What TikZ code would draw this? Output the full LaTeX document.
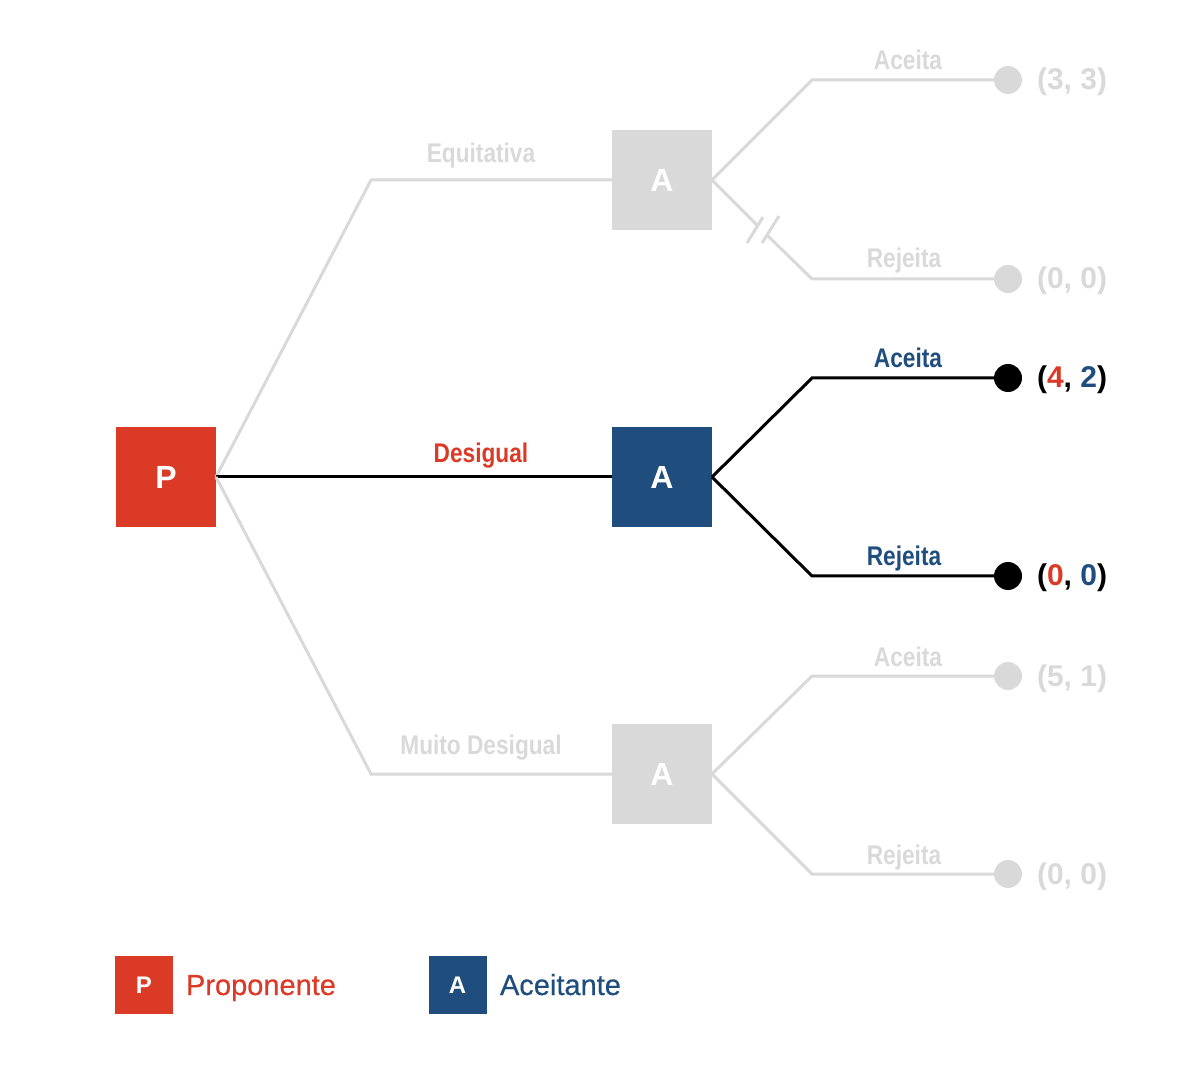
\documentclass[tikz,border=0pt]{standalone}
\usepackage{fontspec}
\setmainfont{Liberation Sans}
\newfontfamily\narrowfont[FakeStretch=0.84]{Liberation Sans}
\newfontfamily\keyfont[FakeBold=0.5]{Liberation Sans}
\definecolor{propred}{HTML}{DB3B26}
\definecolor{aceblue}{HTML}{1F4E7E}
\definecolor{offgray}{HTML}{D9D9D9}
\begin{document}
\begin{tikzpicture}[x=.5pt,y=-.5pt]
\tikzstyle{every node}=[inner sep=0pt, outer sep=0pt]
\tikzstyle{player}=[minimum size=50pt, text=white, font=\fontsize{16}{18}\selectfont\bfseries]
\tikzstyle{keybox}=[minimum size=29pt, text=white, font=\fontsize{12}{14}\selectfont\bfseries]
\tikzstyle{leaf}=[circle, minimum size=14pt]
\tikzstyle{move}=[anchor=base, font=\narrowfont\fontsize{13.5}{15}\selectfont\bfseries]
\tikzstyle{payoff}=[anchor=base west, font=\fontsize{15}{17}\selectfont\bfseries]
\tikzstyle{keytext}=[anchor=base west, font=\keyfont\fontsize{14.5}{16}\selectfont]
\tikzstyle{off}=[draw=offgray, line width=1.5pt]
\tikzstyle{on}=[draw=black, line width=1.5pt]
\useasboundingbox (0,0) rectangle (1200,1080);
% players
\draw (166,477) node (p) [player,fill=propred] {P};
\draw (662,180) node (a1) [player,fill=offgray] {A};
\draw (662,477) node (a2) [player,fill=aceblue] {A};
\draw (662,774) node (a3) [player,fill=offgray] {A};
% ends
\draw (1008,80) node (t1) [leaf,fill=offgray] {};
\draw (1008,279) node (t2) [leaf,fill=offgray] {};
\draw (1008,378) node (t3) [leaf,fill=black] {};
\draw (1008,576) node (t4) [leaf,fill=black] {};
\draw (1008,676) node (t5) [leaf,fill=offgray] {};
\draw (1008,874) node (t6) [leaf,fill=offgray] {};
% corners
\coordinate (c1) at (371,180);
\coordinate (c2) at (371,774);
\coordinate (d1) at (812,80);
\coordinate (d2) at (812,279);
\coordinate (d3) at (812,378);
\coordinate (d4) at (812,576);
\coordinate (d5) at (812,676);
\coordinate (d6) at (812,874);
\coordinate (b1) at (757.5,225.5);
\coordinate (b2) at (767,235);
% branches
\draw[off] (p.east) -- (c1) -- (a1.west);
\draw[on] (p.east) -- (a2.west);
\draw[off] (p.east) -- (c2) -- (a3.west);
\draw[off] (a1.east) -- (d1) -- (t1);
\draw[off] (a1.east) -- (b1);
\draw[off] (b2) -- (d2) -- (t2);
\draw[off] (747,243) -- (763,217);
\draw[off] (762,243) -- (779,216);
\draw[on] (a2.east) -- (d3) -- (t3);
\draw[on] (a2.east) -- (d4) -- (t4);
\draw[off] (a3.east) -- (d5) -- (t5);
\draw[off] (a3.east) -- (d6) -- (t6);
% moves
\draw (481,163) node (m1) [move,text=offgray] {Equitativa};
\draw (481,463) node (m2) [move,text=propred] {Desigual};
\draw (481,754) node (m3) [move,text=offgray] {Muito Desigual};
\draw (908,70) node (r1) [move,text=offgray] {Aceita};
\draw (904,268) node (r2) [move,text=offgray] {Rejeita};
\draw (908,368) node (r3) [move,text=aceblue] {Aceita};
\draw (904,566) node (r4) [move,text=aceblue] {Rejeita};
\draw (908,666) node (r5) [move,text=offgray] {Aceita};
\draw (904,864) node (r6) [move,text=offgray] {Rejeita};
% payoffs
\draw (1037,90) node (u1) [payoff,text=offgray] {(3, 3)};
\draw (1037,289) node (u2) [payoff,text=offgray] {(0, 0)};
\draw (1037,388) node (u3) [payoff] {(\textcolor{propred}{4}, \textcolor{aceblue}{2})};
\draw (1037,586) node (u4) [payoff] {(\textcolor{propred}{0}, \textcolor{aceblue}{0})};
\draw (1037,686) node (u5) [payoff,text=offgray] {(5, 1)};
\draw (1037,884) node (u6) [payoff,text=offgray] {(0, 0)};
% legend
\draw (144,985) node (kp) [keybox,fill=propred] {P};
\draw (186,995) node (kpt) [keytext,text=propred] {Proponente};
\draw (457.5,985) node (ka) [keybox,fill=aceblue] {A};
\draw (500,995) node (kat) [keytext,text=aceblue] {Aceitante};
\end{tikzpicture}
\end{document}
